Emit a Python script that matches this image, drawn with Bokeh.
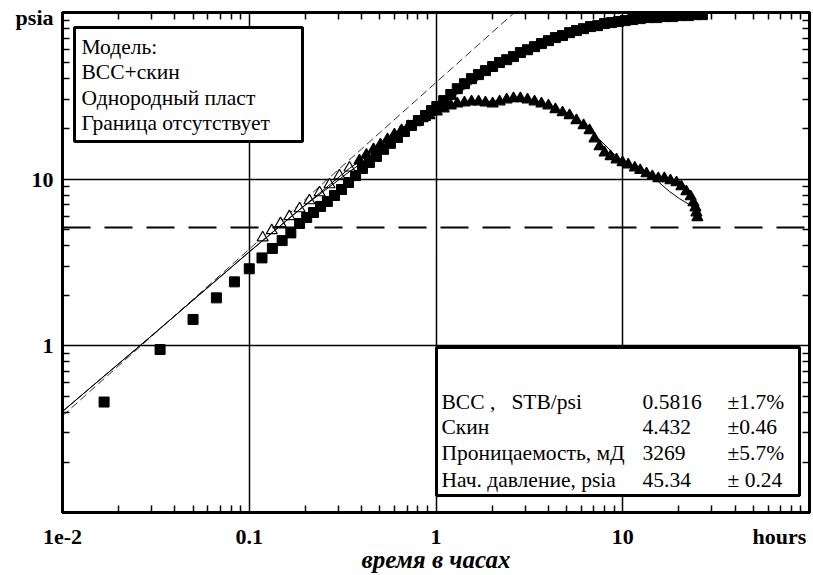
from bokeh.plotting import figure
from bokeh.models import LogAxis, FixedTicker, Span, BoxAnnotation, ColumnDataSource
from bokeh.core.properties import value
from bokeh.embed import file_html
from bokeh.resources import INLINE

# ---------------- data ----------------
# pressure change, squares (hours, psia)
p_time = [0.0167, 0.0333, 0.05, 0.0667, 0.0833, 0.1, 0.117, 0.133, 0.15, 0.167,
          0.186, 0.203, 0.221, 0.241, 0.262, 0.286, 0.312, 0.340, 0.371, 0.404,
          0.440, 0.480, 0.524, 0.570, 0.622, 0.678, 0.739, 0.805, 0.879, 0.946,
          1.01, 1.10, 1.20, 1.30, 1.42, 1.55, 1.69, 1.84, 2.01, 2.19,
          2.39, 2.60, 2.83, 3.09, 3.37, 3.67, 4.00, 4.36, 4.76, 5.19,
          5.65, 6.16, 6.72, 7.33, 7.99, 8.71, 9.49, 10.3, 11.3, 12.4,
          13.7, 15.2, 16.7, 18.5, 20.4, 22.5, 24.5, 26.7]
p_val = [0.46, 0.95, 1.44, 1.94, 2.42, 2.90, 3.37, 3.84, 4.28, 4.76,
         5.42, 5.89, 6.31, 6.86, 7.35, 7.98, 8.67, 9.55, 10.5, 11.6,
         12.6, 13.7, 15.1, 16.4, 17.8, 19.3, 21.0, 22.5, 24.1, 25.8,
         27.3, 29.6, 32.2, 34.9, 37.4, 40.1, 42.4, 44.8, 47.4, 50.1,
         52.1, 54.4, 57.5, 59.8, 62.4, 65.1, 67.8, 70.7, 72.7, 75.7,
         77.9, 80.0, 82.3, 83.4, 85.8, 87.0, 88.2, 89.4, 90.7, 91.9,
         93.2, 93.2, 94.5, 94.5, 95.8, 95.8, 97.1, 97.1]

# pressure derivative, triangles (hours, psia)
d_time = [0.118, 0.132, 0.147, 0.164, 0.186, 0.210, 0.238, 0.269, 0.304, 0.344,
          0.389, 0.424, 0.463, 0.504, 0.550, 0.599, 0.654, 0.712, 0.777, 0.847,
          0.923, 1.01, 1.10, 1.20, 1.30, 1.42, 1.55, 1.69, 1.84, 2.01,
          2.19, 2.39, 2.60, 2.83, 3.09, 3.37, 3.67, 4.00, 4.36, 4.76,
          5.19, 5.65, 6.17, 6.64, 7.06, 7.51, 7.99, 8.60, 9.26, 9.97,
          10.7, 11.6, 12.4, 13.4, 14.4, 15.5, 16.7, 18.0, 19.4, 20.6,
          21.9, 23.1, 23.9, 24.5, 24.8, 25.1]
d_val = [4.46, 4.92, 5.42, 5.97, 6.66, 7.44, 8.31, 9.28, 10.5, 11.7,
         12.9, 14.0, 15.1, 16.1, 17.3, 18.5, 19.6, 20.7, 21.9, 23.1,
         24.1, 25.4, 26.5, 27.6, 28.4, 28.8, 29.2, 29.2, 28.8, 28.4,
         29.2, 30.0, 30.5, 30.5, 30.0, 29.2, 28.4, 27.6, 26.2, 25.1,
         24.1, 22.5, 21.0, 19.6, 17.5, 15.7, 14.4, 13.7, 13.1, 12.6,
         12.2, 11.7, 11.3, 10.8, 10.4, 10.1, 10.1, 9.81, 9.54, 9.03,
         8.43, 7.86, 7.24, 6.75, 6.30, 5.89]

# model curves (thin lines)
mp_time = [0.01, 0.0292, 0.0991, 0.186, 0.344, 0.638, 1.01, 1.51, 2.19, 3.58, 5.87, 9.61, 15.7, 27.4]
mp_val = [0.404, 1.12, 3.63, 6.57, 11.1, 18.0, 26.9, 36.4, 48.0, 63.3, 76.9, 87.1, 92.0, 95.8]
md_time = [0.01, 0.0292, 0.0991, 0.186, 0.344, 0.638, 1.01, 1.51, 2.19, 3.17, 4.59, 5.87,
           7.51, 9.61, 12.3, 15.0, 17.8, 20.1, 22.7, 25.1]
md_val = [0.404, 1.12, 3.63, 6.57, 11.6, 18.8, 25.1, 28.8, 29.6, 29.6, 25.8, 22.2,
          17.3, 13.1, 11.1, 9.95, 8.43, 7.65, 7.05, 6.40]

# unit-slope (storage) line and radial-flow level
us_time = [0.01, 2.7]
us_val = [0.38, 102.6]
radial_level = 5.13

# tick labels ("hours" and "psia" sit at the ends of the axes)
x_ticks = [0.01, 0.1, 1, 10, 69.1]
x_tick_labels = ["1e-2", "0.1", "1", "10", "hours"]
y_ticks = [1, 10, 93]
y_tick_labels = ["1", "10", "psia"]
x_title = "время в часах"

model_lines = ["Модель:", "ВСС+скин", "Однородный пласт", "Граница отсутствует"]
param_names = ["ВСС ,\u00a0\u00a0\u00a0STB/psi", "Скин", "Проницаемость, мД", "Нач. давление, psia"]
param_values = ["0.5816", "4.432", "3269", "45.34"]
param_errors = ["±1.7%", "±0.46", "±5.7%", "± 0.24"]

FONT = "'Liberation Serif', serif"
BOX_FONT = "serif"

# page-pixel -> data helpers (for annotation placement only)
def xpx(px):
    return 10 ** ((px - 436.5) / 186.75)

def ypx(py):
    return 10 ** ((346.3 - py) / 166.7)

# ---------------- figure ----------------
p = figure(frame_width=747, frame_height=500, x_axis_type="log", y_axis_type="log",
           x_range=(0.01, 100), y_range=(0.1, 100),
           output_backend="svg", toolbar_location=None,
           min_border_left=62, min_border_right=4, min_border_top=12, min_border_bottom=0)
p.background_fill_color = "white"
p.border_fill_color = "white"
p.outline_line_color = "black"
p.outline_line_width = 3

x_minor = [m * 10.0 ** e for e in range(-2, 2) for m in range(2, 10)]
y_minor = [m * 10.0 ** e for e in range(-1, 2) for m in range(2, 10)]

bx = p.below[0]
bx.ticker = FixedTicker(ticks=x_ticks, minor_ticks=x_minor)
bx.major_label_overrides = dict(zip(x_ticks, x_tick_labels))
by = p.left[0]
by.ticker = FixedTicker(ticks=y_ticks, minor_ticks=y_minor)
by.major_label_overrides = dict(zip(y_ticks, y_tick_labels))
for ax in (bx, by):
    ax.axis_line_width = 3
    ax.axis_line_color = "black"
    ax.major_tick_in = 0
    ax.major_tick_out = 0
    ax.minor_tick_in = 7
    ax.minor_tick_out = 0
    ax.minor_tick_line_width = 1.5
    ax.minor_tick_line_color = "black"
    ax.major_label_text_font = FONT
    ax.major_label_text_font_style = "bold"
    ax.major_label_text_font_size = "22px"
    ax.major_label_text_color = "black"
bx.major_label_standoff = 11
by.major_label_standoff = 9
bx.axis_label = x_title
bx.axis_label_text_font = FONT
bx.axis_label_text_font_style = "bold italic"
bx.axis_label_text_font_size = "25px"
bx.axis_label_text_color = "black"
bx.axis_label_standoff = -6

top = LogAxis(ticker=FixedTicker(ticks=[], minor_ticks=x_minor),
              major_tick_in=0, major_tick_out=0, minor_tick_in=7, minor_tick_out=0,
              minor_tick_line_width=1.5, axis_line_width=3)
right = LogAxis(ticker=FixedTicker(ticks=[], minor_ticks=y_minor),
                major_tick_in=0, major_tick_out=0, minor_tick_in=7, minor_tick_out=0,
                minor_tick_line_width=1.5, axis_line_width=3)
p.add_layout(top, "above")
p.add_layout(right, "right")

p.xgrid.ticker = FixedTicker(ticks=[0.1, 1, 10])
p.ygrid.ticker = FixedTicker(ticks=[1, 10])
for g in (p.xgrid[0], p.ygrid[0]):
    g.grid_line_color = "black"
    g.grid_line_width = 1.5
    g.grid_line_alpha = 1

p.add_layout(Span(location=radial_level, dimension="width", line_color="black",
                  line_width=2, line_dash="28 14"))

# boxes (white, covering the grid, below the texts)
p.add_layout(BoxAnnotation(left=xpx(75), right=xpx(303), top=ypx(28), bottom=ypx(142),
                           fill_color="white", fill_alpha=1, line_color="black",
                           line_width=3, line_alpha=1, level="underlay"))
p.add_layout(BoxAnnotation(left=xpx(437), right=xpx(800), top=ypx(348), bottom=ypx(496),
                           fill_color="white", fill_alpha=1, line_color="black",
                           line_width=3, line_alpha=1, level="underlay"))

# data
p.line(us_time, us_val, line_color="#333333", line_width=1, line_dash="8 4")
p.scatter(p_time, p_val, marker="square", size=10, color="black")
d_fill = ["white" if t < 0.35 else "black" for t in d_time]
p.scatter(d_time, d_val, marker="triangle", size=11, fill_color=d_fill,
          line_color="black", line_width=1.2)
p.line(mp_time, mp_val, line_color="black", line_width=1)
p.line(md_time, md_val, line_color="black", line_width=1)

# texts in boxes
txt_x, txt_y, txt = [], [], []
for i, t in enumerate(model_lines):
    txt_x.append(xpx(82)); txt_y.append(ypx(47 + 25.5 * i)); txt.append(t)
row_y = [402, 427.5, 453.5, 480]
for i in range(4):
    for px, t in ((442, param_names[i]), (643, param_values[i]), (728, param_errors[i])):
        txt_x.append(xpx(px)); txt_y.append(ypx(row_y[i])); txt.append(t)
src = ColumnDataSource(dict(x=txt_x, y=txt_y, text=txt))
p.text(x="x", y="y", text="text", source=src, text_font=value(BOX_FONT),
       text_font_size="21.5px", text_baseline="middle", text_align="left", text_color="black")

open("out.html", "w").write(file_html(p, INLINE))
